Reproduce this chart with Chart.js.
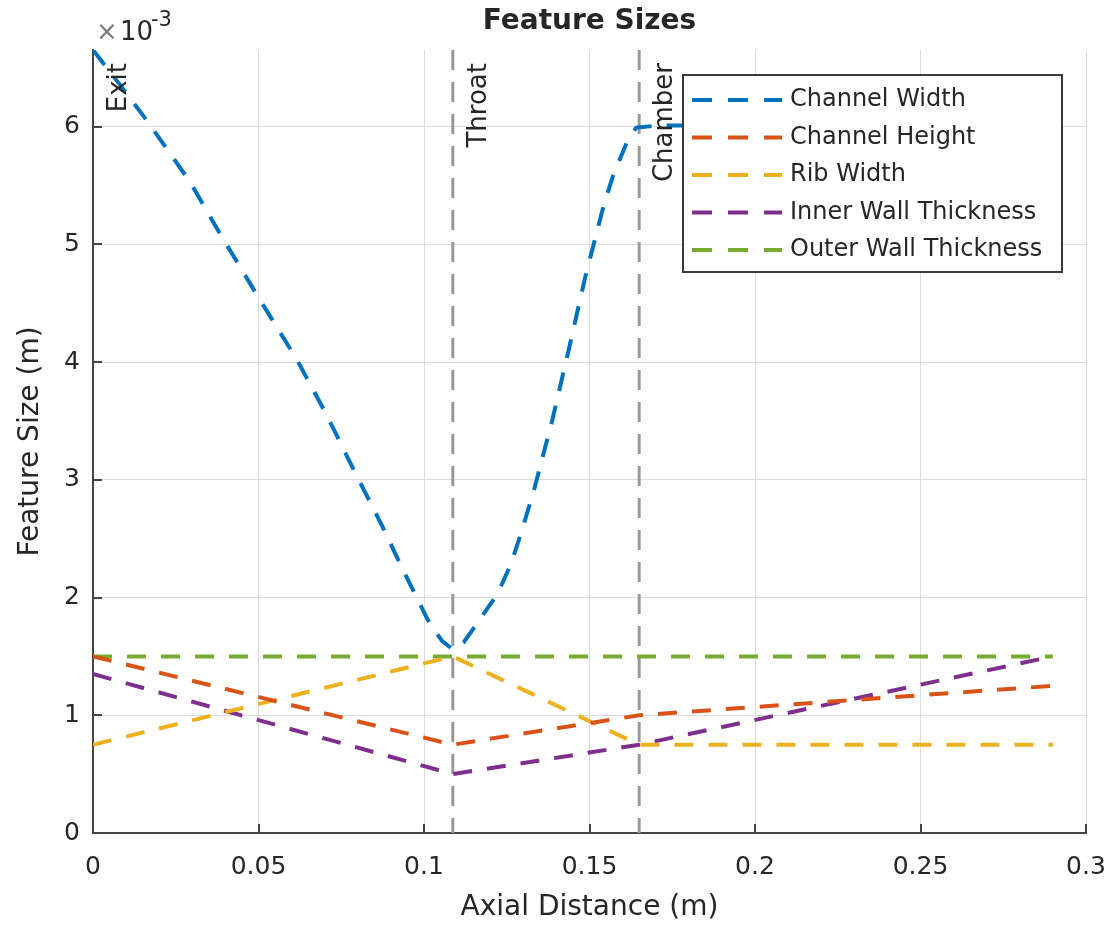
<!DOCTYPE html>
<html>
<head>
<meta charset="utf-8">
<title>Feature Sizes</title>
<script src="https://cdn.jsdelivr.net/npm/chart.js@4.4.1/dist/chart.umd.min.js"></script>
<style>
  html, body { margin: 0; padding: 0; background: #fff; }
  #wrap { width: 1112px; height: 932px; }
</style>
</head>
<body>
<div id="wrap"><canvas id="myChart" width="1112" height="932"></canvas></div>
<script>
// all sizes are in units of 1e-3 m (the axis carries the x10^-3 factor)
const channelWidthX = [0, 0.008, 0.0163, 0.0293, 0.0392, 0.0504, 0.0616, 0.0706, 0.0776, 0.0875,
    0.0927, 0.0978, 0.1017, 0.1055, 0.1087, 0.112, 0.1158, 0.1222, 0.1262, 0.1297, 0.1332,
    0.1387, 0.1437, 0.1487, 0.1542, 0.1572, 0.1612, 0.1641, 0.171, 0.29];
const channelWidthY = [6.65, 6.36, 6.05, 5.53, 5.05, 4.53, 4.02, 3.55, 3.15, 2.60,
    2.29, 2.00, 1.78, 1.63, 1.56, 1.62, 1.77, 2.03, 2.28, 2.58, 2.91,
    3.50, 4.10, 4.72, 5.32, 5.59, 5.86, 5.99, 6.01, 6.0];

// the other series only bend at exit, throat, chamber and the end
const stationX = [0, 0.1087, 0.165, 0.29];
const channelHeightY = [1.5, 0.75, 1.0, 1.25];
const ribWidthY = [0.75, 1.5, 0.75, 0.75];
const innerWallY = [1.35, 0.5, 0.75, 1.5];
const outerWallY = [1.5, 1.5, 1.5, 1.5];

const seriesLabels = ['Channel Width', 'Channel Height', 'Rib Width', 'Inner Wall Thickness', 'Outer Wall Thickness'];
const seriesColors = ['#0072BD', '#D95319', '#EDB120', '#7E2F8E', '#77AC30'];

const markerX = [0, 0.1087, 0.165];
const markerLabels = ['Exit', 'Throat', 'Chamber'];

const xTickValues = [0, 0.05, 0.1, 0.15, 0.2, 0.25, 0.3];
const xTickLabels = ['0', '0.05', '0.1', '0.15', '0.2', '0.25', '0.3'];
const yTickValues = [0, 1, 2, 3, 4, 5, 6];
const yTickLabels = ['0', '1', '2', '3', '4', '5', '6'];

const FONT = '"DejaVu Sans", "Liberation Sans", sans-serif';
const TEXT_COLOR = '#262626';
const AXIS_COLOR = '#444444';
const GRID_COLOR = '#dcdcdc';
const LINE_DASH = [19, 15];

function pairs(xs, ys) {
    return xs.map((x, i) => ({ x: x, y: ys[i] }));
}

function makeSet(i, xs, ys) {
    return {
        label: seriesLabels[i],
        data: pairs(xs, ys),
        borderColor: seriesColors[i],
        backgroundColor: seriesColors[i],
        borderWidth: 4,
        borderDash: LINE_DASH,
        pointRadius: 0,
        fill: false,
        tension: 0
    };
}

const decorations = {
    id: 'decorations',
    beforeDatasetsDraw(chart) {
        const ctx = chart.ctx;
        const area = chart.chartArea;
        const xs = chart.scales.x;
        ctx.save();
        ctx.strokeStyle = '#999999';
        ctx.lineWidth = 3;
        ctx.setLineDash([20, 12]);
        markerX.forEach(v => {
            if (v <= 0) return;
            const px = xs.getPixelForValue(v);
            ctx.beginPath();
            ctx.moveTo(px, area.top);
            ctx.lineTo(px, area.bottom);
            ctx.stroke();
        });
        ctx.restore();
    },
    afterDatasetsDraw(chart) {
        const ctx = chart.ctx;
        const area = chart.chartArea;
        const xs = chart.scales.x;
        const ys = chart.scales.y;

        // inward tick marks
        ctx.save();
        ctx.strokeStyle = AXIS_COLOR;
        ctx.lineWidth = 2;
        xTickValues.forEach(v => {
            const px = Math.round(xs.getPixelForValue(v));
            ctx.beginPath();
            ctx.moveTo(px, area.bottom);
            ctx.lineTo(px, area.bottom - 9);
            ctx.stroke();
        });
        yTickValues.forEach(v => {
            const py = Math.round(ys.getPixelForValue(v));
            ctx.beginPath();
            ctx.moveTo(area.left, py);
            ctx.lineTo(area.left + 9, py);
            ctx.stroke();
        });
        ctx.restore();

        // marker labels
        ctx.save();
        ctx.fillStyle = TEXT_COLOR;
        ctx.font = '26px ' + FONT;
        ctx.textAlign = 'right';
        ctx.textBaseline = 'middle';
        markerX.forEach((v, i) => {
            const px = xs.getPixelForValue(v);
            ctx.save();
            ctx.translate(px + 26, area.top + 13);
            ctx.rotate(-Math.PI / 2);
            ctx.fillText(markerLabels[i], 0, 0);
            ctx.restore();
        });
        ctx.restore();

        // legend box inside the axes
        const bx = area.right - 403;
        const by = area.top + 25;
        const bw = 379;
        const bh = 197;
        ctx.save();
        ctx.fillStyle = '#ffffff';
        ctx.fillRect(bx, by, bw, bh);
        ctx.strokeStyle = '#3a3a3a';
        ctx.lineWidth = 2;
        ctx.strokeRect(bx, by, bw, bh);
        ctx.font = '24px ' + FONT;
        ctx.textAlign = 'left';
        ctx.textBaseline = 'middle';
        chart.data.datasets.forEach((ds, i) => {
            const ry = by + 25 + i * 37.5;
            ctx.strokeStyle = ds.borderColor;
            ctx.lineWidth = 4;
            ctx.setLineDash([20, 16]);
            ctx.beginPath();
            ctx.moveTo(bx + 9, ry);
            ctx.lineTo(bx + 99, ry);
            ctx.stroke();
            ctx.setLineDash([]);
            ctx.fillStyle = TEXT_COLOR;
            ctx.fillText(ds.label, bx + 107, ry);
        });
        ctx.restore();
    },
    afterDraw(chart) {
        const ctx = chart.ctx;
        const area = chart.chartArea;
        ctx.save();
        ctx.fillStyle = TEXT_COLOR;
        ctx.textAlign = 'center';
        ctx.textBaseline = 'middle';
        ctx.font = 'bold 28px ' + FONT;
        ctx.fillText('Feature Sizes', (area.left + area.right) / 2, 22);

        // exponent label
        ctx.textAlign = 'left';
        ctx.font = '26px ' + FONT;
        ctx.fillStyle = '#7a7a7a';
        ctx.fillText('\u00d7', area.left + 3, 33);
        ctx.fillStyle = TEXT_COLOR;
        ctx.fillText('10', area.left + 27, 33);
        ctx.font = '21px ' + FONT;
        ctx.fillText('-3', area.left + 58, 21);
        ctx.restore();
    }
};

function drawChart() {
    const ctx = document.getElementById('myChart').getContext('2d');
    new Chart(ctx, {
        type: 'line',
        data: {
            datasets: [
                makeSet(0, channelWidthX, channelWidthY),
                makeSet(1, stationX, channelHeightY),
                makeSet(2, stationX, ribWidthY),
                makeSet(3, stationX, innerWallY),
                makeSet(4, stationX, outerWallY)
            ]
        },
        options: {
            responsive: false,
            animation: false,
            devicePixelRatio: 1,
            layout: { padding: { left: 0, right: 26, top: 50, bottom: 0 } },
            plugins: {
                legend: { display: false },
                title: { display: false },
                tooltip: { enabled: false }
            },
            scales: {
                x: {
                    type: 'linear',
                    min: 0,
                    max: 0.3,
                    afterFit: s => {
                        s.height = 99;
                        s.paddingLeft = 0;
                        s.paddingRight = 0;
                    },
                    afterBuildTicks: s => { s.ticks = xTickValues.map(v => ({ value: v })); },
                    grid: { color: GRID_COLOR, lineWidth: 1, drawTicks: false },
                    border: { color: AXIS_COLOR, width: 2 },
                    ticks: {
                        padding: 19,
                        color: TEXT_COLOR,
                        font: { family: FONT, size: 25 },
                        maxRotation: 0,
                        autoSkip: false,
                        callback: (v, i) => xTickLabels[i]
                    },
                    title: {
                        display: true,
                        text: 'Axial Distance (m)',
                        color: TEXT_COLOR,
                        font: { family: FONT, size: 28, lineHeight: 1 },
                        padding: { top: 0, bottom: 10 }
                    }
                },
                y: {
                    type: 'linear',
                    min: 0,
                    max: 6.65,
                    afterFit: s => {
                        s.width = 93;
                        s.paddingTop = 0;
                        s.paddingBottom = 0;
                    },
                    afterBuildTicks: s => { s.ticks = yTickValues.map(v => ({ value: v })); },
                    grid: { color: GRID_COLOR, lineWidth: 1, drawTicks: false },
                    border: { color: AXIS_COLOR, width: 2 },
                    ticks: {
                        padding: 13,
                        color: TEXT_COLOR,
                        font: { family: FONT, size: 25 },
                        autoSkip: false,
                        callback: (v, i) => yTickLabels[i]
                    },
                    title: {
                        display: true,
                        text: 'Feature Size (m)',
                        color: TEXT_COLOR,
                        font: { family: FONT, size: 28, lineHeight: 1 },
                        padding: { top: 17, bottom: 0 }
                    }
                }
            }
        },
        plugins: [decorations]
    });
}

drawChart();
</script>
</body>
</html>
